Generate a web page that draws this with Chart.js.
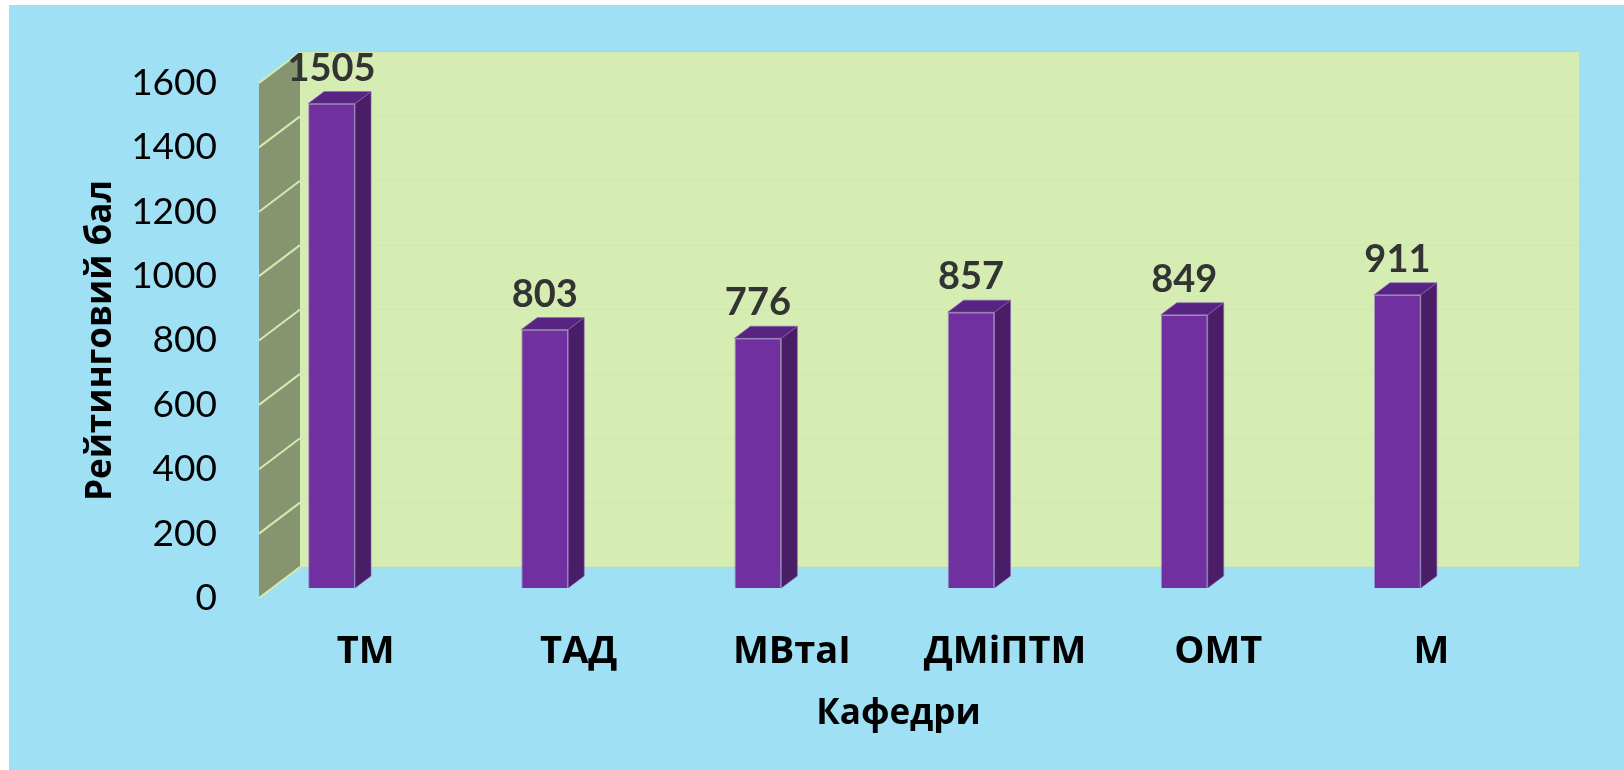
<!DOCTYPE html>
<html>
<head>
<meta charset="utf-8">
<script src="https://cdn.jsdelivr.net/npm/chart.js@4.4.1/dist/chart.umd.min.js"></script>
<style>
  html, body { margin: 0; padding: 0; background: #ffffff; }
  #wrap { width: 1624px; height: 770px; }
</style>
</head>
<body>
<div id="wrap"><canvas id="chart" width="1624" height="770"></canvas></div>
<script>
/* ===== data ===== */
const categories = ["ТМ", "ТАД", "МВтаІ", "ДМіПТМ", "ОМТ", "М"];
const ratingScores = [1505, 803, 776, 857, 849, 911];
const yTickValues = [0, 200, 400, 600, 800, 1000, 1200, 1400, 1600];

/* ===== look ===== */
const BG_BLUE = "#9fe0f4";
const WALL_BACK = "#d5ecb3";
const WALL_SIDE = "#86946f";
const WALL_LINE = "#d3ecae";
const BAR_FRONT = "#7030a0";
const BAR_SIDE = "#4a1e67";
const BAR_TOP = "#582483";

// projection offsets (px)
const WALL_DEPTH = { x: 41, y: -31 };   // front plane -> back wall
const BAR_SHIFT = { x: -34, y: -10 };   // front plane -> bar plane
const BAR_DEPTH = { x: 16, y: -12 };    // bar front -> bar back

/* ===== 3d box plugin ===== */
const box3d = {
  id: "box3d",
  beforeDraw(chart) {
    const { ctx, chartArea: a, scales: { y } } = chart;
    ctx.save();
    ctx.fillStyle = "#ffffff";
    ctx.fillRect(0, 0, chart.width, chart.height);
    ctx.fillStyle = BG_BLUE;
    ctx.fillRect(9, 5, chart.width - 9, chart.height - 5);

    const top = y.getPixelForValue(yTickValues[yTickValues.length - 1]);
    const bot = y.getPixelForValue(yTickValues[0]);

    // back wall
    ctx.fillStyle = WALL_BACK;
    ctx.fillRect(a.left + WALL_DEPTH.x, top + WALL_DEPTH.y, a.right - a.left, bot - top);

    // barely visible grid on back wall
    ctx.strokeStyle = "rgba(190,215,160,0.18)";
    ctx.lineWidth = 1;
    yTickValues.forEach(v => {
      const py = y.getPixelForValue(v) + WALL_DEPTH.y;
      ctx.beginPath();
      ctx.moveTo(a.left + WALL_DEPTH.x, py);
      ctx.lineTo(a.right + WALL_DEPTH.x, py);
      ctx.stroke();
    });

    // side wall
    ctx.fillStyle = WALL_SIDE;
    ctx.beginPath();
    ctx.moveTo(a.left, top);
    ctx.lineTo(a.left + WALL_DEPTH.x, top + WALL_DEPTH.y);
    ctx.lineTo(a.left + WALL_DEPTH.x, bot + WALL_DEPTH.y);
    ctx.lineTo(a.left, bot);
    ctx.closePath();
    ctx.fill();

    ctx.strokeStyle = WALL_LINE;
    ctx.lineWidth = 2;
    yTickValues.forEach(v => {
      const py = y.getPixelForValue(v);
      ctx.beginPath();
      ctx.moveTo(a.left, py);
      ctx.lineTo(a.left + WALL_DEPTH.x, py + WALL_DEPTH.y);
      ctx.stroke();
    });
    ctx.restore();
  },
  beforeDatasetsDraw(chart) {
    chart.ctx.save();
    chart.ctx.translate(BAR_SHIFT.x, BAR_SHIFT.y);
  },
  afterDatasetsDraw(chart) {
    const { ctx } = chart;
    const meta = chart.getDatasetMeta(0);
    meta.data.forEach((bar, i) => {
      const { x, y, base, width } = bar.getProps(["x", "y", "base", "width"], true);
      const l = x - width / 2, r = x + width / 2;

      ctx.strokeStyle = "rgba(140,100,190,0.6)";
      ctx.lineWidth = 1;

      ctx.fillStyle = BAR_SIDE;
      ctx.beginPath();
      ctx.moveTo(r, y);
      ctx.lineTo(r + BAR_DEPTH.x, y + BAR_DEPTH.y);
      ctx.lineTo(r + BAR_DEPTH.x, base + BAR_DEPTH.y);
      ctx.lineTo(r, base);
      ctx.closePath();
      ctx.fill();
      ctx.stroke();

      ctx.fillStyle = BAR_TOP;
      ctx.beginPath();
      ctx.moveTo(l, y);
      ctx.lineTo(l + BAR_DEPTH.x, y + BAR_DEPTH.y);
      ctx.lineTo(r + BAR_DEPTH.x, y + BAR_DEPTH.y);
      ctx.lineTo(r, y);
      ctx.closePath();
      ctx.fill();
      ctx.stroke();

      // value label
      ctx.fillStyle = "#333333";
      ctx.font = "bold 38px Lato, 'Open Sans', sans-serif";
      ctx.textAlign = "center";
      ctx.textBaseline = "alphabetic";
      ctx.fillText(String(ratingScores[i]), x, y + BAR_DEPTH.y - 11);
    });
    ctx.restore();
  }
};

const ctx = document.getElementById("chart");
new Chart(ctx, {
  type: "bar",
  data: {
    labels: categories,
    datasets: [{
      data: ratingScores,
      backgroundColor: BAR_FRONT,
      borderColor: "rgba(140,100,190,0.6)",
      borderWidth: 1,
      categoryPercentage: 0.22,
      barPercentage: 1
    }]
  },
  options: {
    responsive: false,
    animation: false,
    devicePixelRatio: 1,
    layout: { padding: { top: 83, right: 86, left: 0, bottom: 0 } },
    plugins: { legend: { display: false }, tooltip: { enabled: false } },
    scales: {
      x: {
        grid: { display: false, drawTicks: false },
        border: { display: false },
        ticks: {
          color: "#000",
          padding: 31,
          font: { family: "'Open Sans'", size: 38, weight: "bold" }
        },
        title: {
          display: true,
          text: "Кафедри",
          color: "#000",
          padding: { top: 0, bottom: 35 },
          font: { family: "'Open Sans'", size: 35, weight: "bold" }
        },
        afterFit: s => { s.height = 172; }
      },
      y: {
        min: 0,
        max: 1600,
        grid: { display: false, drawTicks: false },
        border: { display: false },
        afterBuildTicks: s => { s.ticks = yTickValues.map(v => ({ value: v })); },
        ticks: {
          color: "#000",
          padding: 42,
          font: { family: "Lato", size: 37 },
          callback: v => String(v)
        },
        title: {
          display: true,
          text: "Рейтинговий бал",
          color: "#000",
          padding: { top: 80, bottom: 0 },
          font: { family: "'Open Sans'", size: 35, weight: "bold" }
        },
        afterFit: s => { s.width = 259; }
      }
    }
  },
  plugins: [box3d]
});
</script>
</body>
</html>
